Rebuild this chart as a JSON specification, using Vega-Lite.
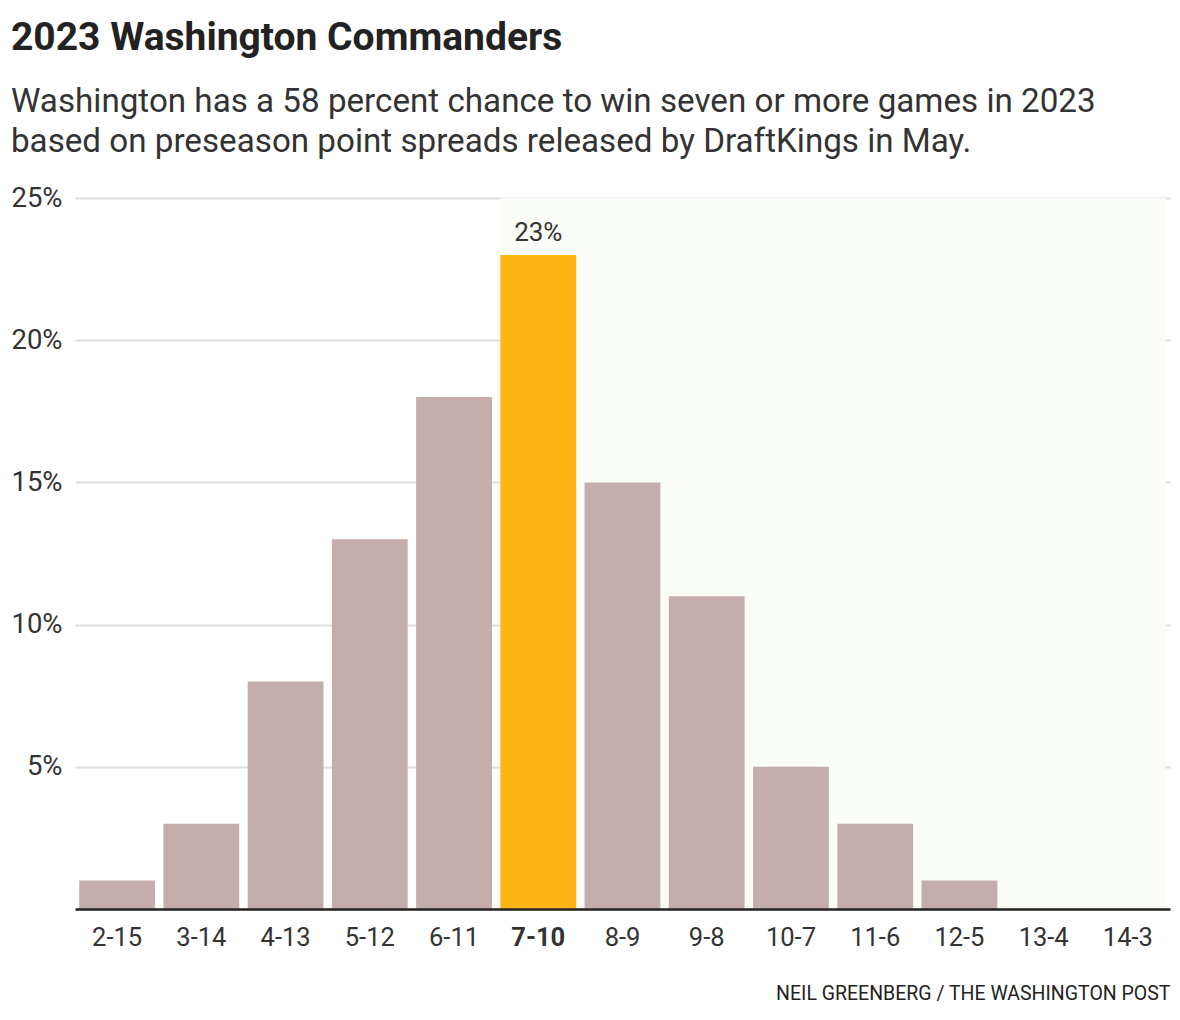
{
  "$schema": "https://vega.github.io/schema/vega-lite/v6.json",
  "width": 1095,
  "height": 711,
  "padding": {"left": 10, "top": 18, "right": 10, "bottom": 10},
  "background": "white",
  "config": {
    "view": {"stroke": null},
    "font": "Roboto",
    "text": {"font": "Roboto"}
  },
  "title": {
    "text": "2023 Washington Commanders",
    "subtitle": ["Washington has a 58 percent chance to win seven or more games in 2023", "based on preseason point spreads released by DraftKings in May."],
    "anchor": "start",
    "frame": "bounds",
    "font": "Roboto",
    "fontSize": 39,
    "fontWeight": "bold",
    "color": "#222222",
    "subtitleFont": "Roboto",
    "subtitleFontSize": 33.2,
    "subtitleColor": "#333333",
    "subtitleLineHeight": 40,
    "subtitlePadding": 28,
    "offset": 26
  },
  "layer": [
    {
      "data": {"values": [{"from": "7-10", "to": "14-3"}]},
      "mark": {"type": "rect", "color": "#fafcf8"},
      "encoding": {
        "x": {"field": "from", "type": "nominal", "bandPosition": 0, "scale": {"domain": ["2-15","3-14","4-13","5-12","6-11","7-10","8-9","9-8","10-7","11-6","12-5","13-4","14-3"], "paddingInner": 0.1, "paddingOuter": 0.05}},
        "x2": {"field": "to", "bandPosition": 1},
        "y": {"datum": 25, "type": "quantitative"},
        "y2": {"datum": 0}
      }
    },
    {
      "data": {"values": [
        {"record": "2-15", "pct": 1},
        {"record": "3-14", "pct": 3},
        {"record": "4-13", "pct": 8},
        {"record": "5-12", "pct": 13},
        {"record": "6-11", "pct": 18},
        {"record": "7-10", "pct": 23},
        {"record": "8-9", "pct": 15},
        {"record": "9-8", "pct": 11},
        {"record": "10-7", "pct": 5},
        {"record": "11-6", "pct": 3},
        {"record": "12-5", "pct": 1},
        {"record": "13-4", "pct": 0},
        {"record": "14-3", "pct": 0}
      ]},
      "encoding": {
        "x": {
          "field": "record",
          "type": "nominal",
          "sort": null,
          "scale": {"domain": ["2-15","3-14","4-13","5-12","6-11","7-10","8-9","9-8","10-7","11-6","12-5","13-4","14-3"], "paddingInner": 0.1, "paddingOuter": 0.05},
          "axis": {
            "title": "NEIL GREENBERG / THE WASHINGTON POST",
            "titleAnchor": "end",
            "titleFont": "Roboto",
            "titleFontSize": 19.5,
            "titleFontWeight": "normal",
            "titleColor": "#222222",
            "titlePadding": 34,
            "bandPosition": 0.5,
            "labelAlign": "center",
            "labelAngle": 0,
            "labelFont": "Roboto",
            "labelFontSize": 25.5,
            "labelColor": "#333333",
            "labelPadding": 28,
            "labelFontWeight": {"condition": {"test": "datum.value === '7-10'", "value": "bold"}, "value": "normal"},
            "ticks": false,
            "domainColor": "#222222",
            "domainWidth": 2.5,
            "grid": false
          }
        },
        "y": {
          "field": "pct",
          "type": "quantitative",
          "scale": {"domain": [0, 25], "nice": false},
          "axis": {
            "title": null,
            "values": [5, 10, 15, 20, 25],
            "labelExpr": "datum.value + '%'",
            "labelFont": "Roboto",
            "labelFontSize": 27.5,
            "labelColor": "#333333",
            "labelPadding": 13,
            "ticks": false,
            "domain": false,
            "grid": true,
            "gridColor": "#dddddd",
            "gridWidth": 2
          }
        }
      },
      "layer": [
        {
          "mark": {"type": "bar"},
          "encoding": {
            "color": {"condition": {"test": "datum.record === '7-10'", "value": "#fdb515"}, "value": "#c4adac"}
          }
        },
        {
          "transform": [{"filter": "datum.record === '7-10'"}, {"calculate": "datum.pct + '%'", "as": "label"}],
          "mark": {"type": "text", "dy": -22, "fontSize": 26, "font": "Roboto", "color": "#333333"},
          "encoding": {"text": {"field": "label", "type": "nominal"}}
        }
      ]
    }
  ]
}
